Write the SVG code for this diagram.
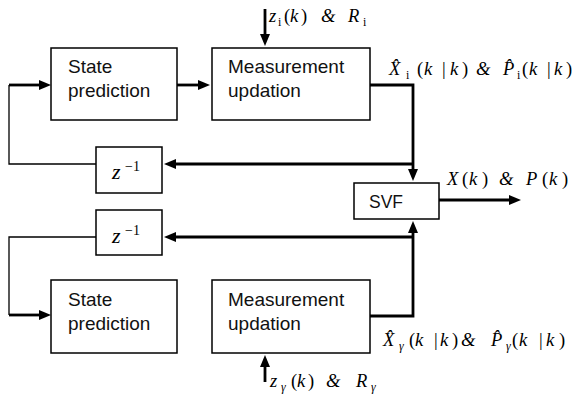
<svg xmlns="http://www.w3.org/2000/svg" width="580" height="397" viewBox="0 0 580 397">
<style>
.box{fill:#fff;stroke:#000;stroke-width:1.5}
.thick{fill:none;stroke:#000;stroke-width:2.8}
.thin{fill:none;stroke:#000;stroke-width:1.3}
.lbl{font-family:"Liberation Sans",Arial,sans-serif;font-size:19px;fill:#111}
.m{font-family:"Liberation Serif","Times New Roman",serif;font-style:italic;font-size:18.5px;fill:#000}
.up{font-style:normal}
.sub{font-size:12px}
</style>
<defs>
<marker id="ah" viewBox="0 0 12 10" refX="2" refY="5" markerWidth="12" markerHeight="10" orient="auto" markerUnits="userSpaceOnUse">
<path d="M0,0 L12,5 L0,10 z" fill="#000"/>
</marker>
</defs>
<rect width="580" height="397" fill="#fff"/>

<g id="connectors">
<path class="thin" d="M96,164 H9 V85"/>
<path class="thick" d="M9,85 H41" marker-end="url(#ah)"/>
<path class="thick" d="M177,85 H200" marker-end="url(#ah)"/>
<path class="thick" d="M265,9 V36" marker-end="url(#ah)"/>
<path class="thick" d="M370,85 H413 V171" marker-end="url(#ah)"/>
<path class="thick" d="M413,164 H174" marker-end="url(#ah)"/>
<path class="thick" d="M439,200 H511" marker-end="url(#ah)"/>
<path class="thick" d="M413,237 H174" marker-end="url(#ah)"/>
<path class="thin" d="M96,237 H9 V315"/>
<path class="thick" d="M9,315 H41" marker-end="url(#ah)"/>
<path class="thick" d="M370,316 H413 V231" marker-end="url(#ah)"/>
<path class="thick" d="M265,382 V365" marker-end="url(#ah)"/>
</g>

<g id="state1">
<rect class="box" x="51" y="48" width="126" height="72"/>
<text class="lbl" x="68" y="73">State</text>
<text class="lbl" x="68" y="97">prediction</text>
</g>
<g id="meas1">
<rect class="box" x="212" y="48" width="158" height="72"/>
<text class="lbl" x="228" y="73">Measurement</text>
<text class="lbl" x="228" y="97">updation</text>
</g>
<g id="delay1">
<rect class="box" x="96" y="147" width="66" height="46"/>
<text class="m" style="font-size:22px" x="112" y="179">z</text>
<text class="m up" style="font-size:14px" x="125" y="171">−1</text>
</g>
<g id="svf">
<rect class="box" x="354" y="183" width="85" height="36"/>
<text class="lbl" style="font-size:17.5px" x="369" y="208">SVF</text>
</g>
<g id="delay2">
<rect class="box" x="96" y="210" width="66" height="45"/>
<text class="m" style="font-size:22px" x="112" y="243">z</text>
<text class="m up" style="font-size:14px" x="125" y="235">−1</text>
</g>
<g id="state2">
<rect class="box" x="51" y="280" width="126" height="73"/>
<text class="lbl" x="68" y="306">State</text>
<text class="lbl" x="68" y="330">prediction</text>
</g>
<g id="meas2">
<rect class="box" x="212" y="280" width="158" height="73"/>
<text class="lbl" x="228" y="306">Measurement</text>
<text class="lbl" x="228" y="330">updation</text>
</g>

<g id="labels">
<text class="m" y="22"><tspan x="269">z</tspan><tspan class="sub up" x="278" y="26">i</tspan><tspan class="up" x="284" y="22">(</tspan><tspan x="290">k</tspan><tspan class="up" x="301">)</tspan><tspan x="321">&amp;</tspan><tspan x="348">R</tspan><tspan class="sub up" x="363" y="26">i</tspan></text>

<text class="m" y="75"><tspan x="389">X̂</tspan><tspan class="sub up" x="406" y="79">i</tspan><tspan class="up" x="417" y="75">(</tspan><tspan x="424">k</tspan><tspan class="up" x="442">|</tspan><tspan x="450">k</tspan><tspan class="up" x="462">)</tspan><tspan x="476">&amp;</tspan><tspan x="503">P̂</tspan><tspan class="sub up" x="517" y="79">i</tspan><tspan class="up" x="522" y="75">(</tspan><tspan x="529">k</tspan><tspan class="up" x="547">|</tspan><tspan x="554">k</tspan><tspan class="up" x="566">)</tspan></text>

<text class="m" y="185"><tspan x="447">X</tspan><tspan class="up" x="462">(</tspan><tspan x="469">k</tspan><tspan class="up" x="482">)</tspan><tspan x="499">&amp;</tspan><tspan x="526">P</tspan><tspan class="up" x="542">(</tspan><tspan x="549">k</tspan><tspan class="up" x="562">)</tspan></text>

<text class="m" y="346"><tspan x="383">X̂</tspan><tspan class="sub" x="399" y="350">γ</tspan><tspan class="up" x="409" y="346">(</tspan><tspan x="415">k</tspan><tspan class="up" x="434">|</tspan><tspan x="440">k</tspan><tspan class="up" x="452">)</tspan><tspan x="461">&amp;</tspan><tspan x="491">P̂</tspan><tspan class="sub" x="506" y="350">γ</tspan><tspan class="up" x="512" y="346">(</tspan><tspan x="519">k</tspan><tspan class="up" x="539">|</tspan><tspan x="546">k</tspan><tspan class="up" x="559">)</tspan></text>

<text class="m" y="387"><tspan x="270">z</tspan><tspan class="sub" x="281" y="391">γ</tspan><tspan class="up" x="291" y="387">(</tspan><tspan x="297">k</tspan><tspan class="up" x="308">)</tspan><tspan x="326">&amp;</tspan><tspan x="356">R</tspan><tspan class="sub" x="371" y="391">γ</tspan></text>
</g>
</svg>
